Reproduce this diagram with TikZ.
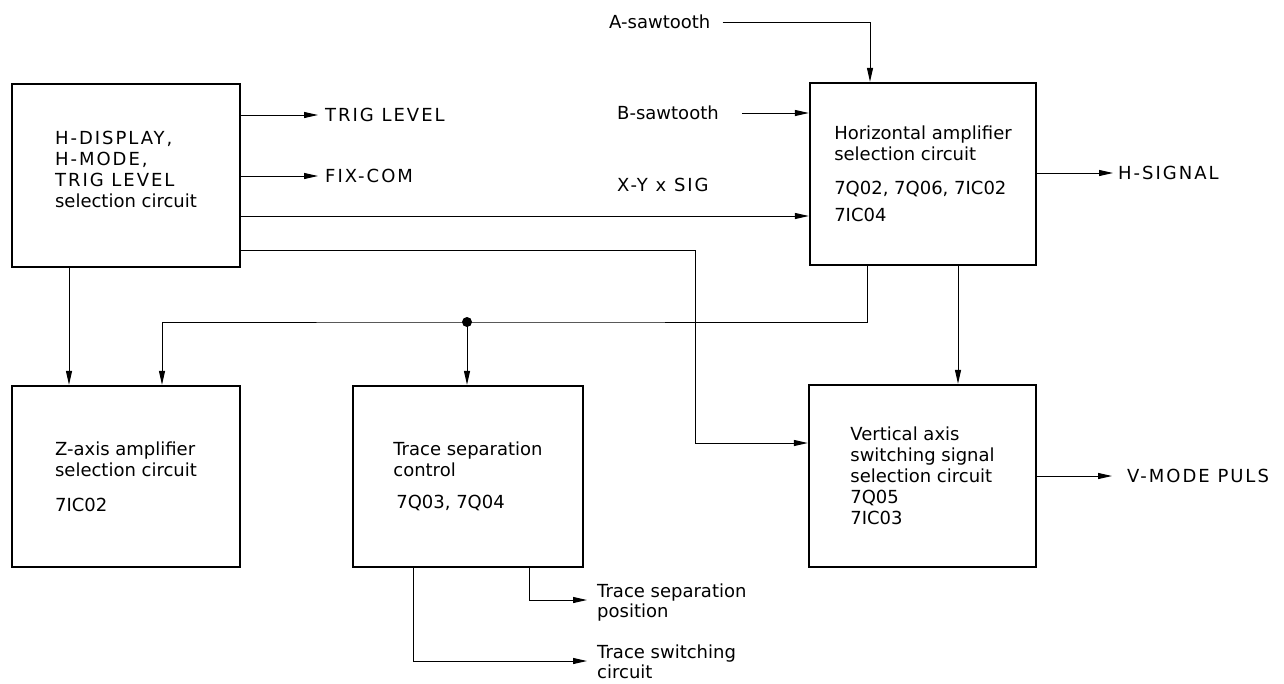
\documentclass[tikz,border=0pt]{standalone}
\usepackage{fontspec}
\setmainfont{DejaVu Sans}
\newfontfamily\capsfont{DejaVu Sans}[LetterSpace=11]
\usetikzlibrary{arrows.meta}
\begin{document}
\begin{tikzpicture}[x=1pt,y=-1pt,
  font=\fontsize{18}{21}\selectfont,
  block/.style={draw, line width=2.3pt, align=left, inner sep=0pt},
  lbl/.style={inner sep=0pt, anchor=west, align=left},
  sig/.style={line width=1pt, -{Triangle[length=14pt,width=6pt]}}]
\useasboundingbox (0,0) rectangle (1284,683);

% circuit blocks
\node[block, minimum width=228pt, minimum height=183pt] (A) at (126,175.5)
  {{\capsfont H-DISPLAY,}\\{\capsfont H-MODE,}\\{\capsfont TRIG LEVEL}\\selection circuit\\[-8pt]{}};
\node[block, minimum width=226pt, minimum height=182pt] (H) at (923,174)
  {Horizontal amplifier\\selection circuit\\[13pt]7Q02, 7Q06, 7IC02\\[6pt]7IC04};
\node[block, minimum width=228pt, minimum height=181pt] (Z) at (126,476.5)
  {Z-axis amplifier\\selection circuit\\[14pt]7IC02};
\node[block, minimum width=230pt, minimum height=181pt] (T) at (468,476.5)
  {Trace separation\\control\\[11pt]\,7Q03, 7Q04};
\node[block, minimum width=227pt, minimum height=182pt] (V) at (922.5,476)
  {Vertical axis\\switching signal\\selection circuit\\7Q05\\7IC03};

% signal names
\node[lbl] (trig) at (325,115) {\capsfont TRIG LEVEL};
\node[lbl] (fix) at (325,176) {\capsfont FIX-COM};
\node[lbl] (hsig) at (1118,173) {\capsfont H-SIGNAL};
\node[lbl] (vmode) at (1127,476) {\capsfont V-MODE PULS};
\node[lbl] (asaw) at (609,22) {A-sawtooth};
\node[lbl] (bsaw) at (617,113) {B-sawtooth};
\node[lbl] (xy) at (617,185) {\capsfont X-Y x SIG};
\node[lbl, font=\fontsize{18}{20}\selectfont] (tsp) at (597,603) {Trace separation\\position};
\node[lbl, font=\fontsize{18}{20}\selectfont] (tsw) at (597,662) {Trace switching\\circuit};

% outputs of the selection circuit
\draw[sig] (A.east |- trig) -- ([xshift=-7pt]trig.west);
\draw[sig] (A.east |- fix) -- ([xshift=-7pt]fix.west);
\draw[sig] ([yshift=-40.5pt]A.east) coordinate (axy) -- (H.west |- axy);
\coordinate (vk) at (695,443);
\draw[sig] ([yshift=-74.5pt]A.east) -| (vk) -- (V.west |- vk);
\draw[sig] ([xshift=-57pt]A.south) -- ([xshift=-57pt]Z.north);

% sawtooth inputs
\draw[sig] ([xshift=12pt]asaw.east) -| ([xshift=-53pt]H.north);
\draw[sig] ([xshift=23pt]bsaw.east) -- (H.west |- bsaw);

% horizontal amplifier outputs
\draw[sig] (H.east |- hsig) -- ([xshift=-5pt]hsig.west);
\coordinate (j) at (467,322);
\draw[sig] ([xshift=-56pt]H.south) |- (j) -| ([xshift=36pt]Z.north);
\draw[sig] (j) -- (T.north -| j);
\fill (j) circle (5pt);
\draw[sig] ([xshift=35pt]H.south) coordinate (hv) -- (V.north -| hv);

% vertical axis output
\draw[sig] (V.east |- vmode) -- ([xshift=-15pt]vmode.west);

% trace separation outputs
\draw[sig] ([xshift=61pt]T.south) |- ([shift={(-10pt,3pt)}]tsp.west);
\draw[sig] ([xshift=-55pt]T.south) |- ([shift={(-10pt,1pt)}]tsw.west);
\end{tikzpicture}
\end{document}
